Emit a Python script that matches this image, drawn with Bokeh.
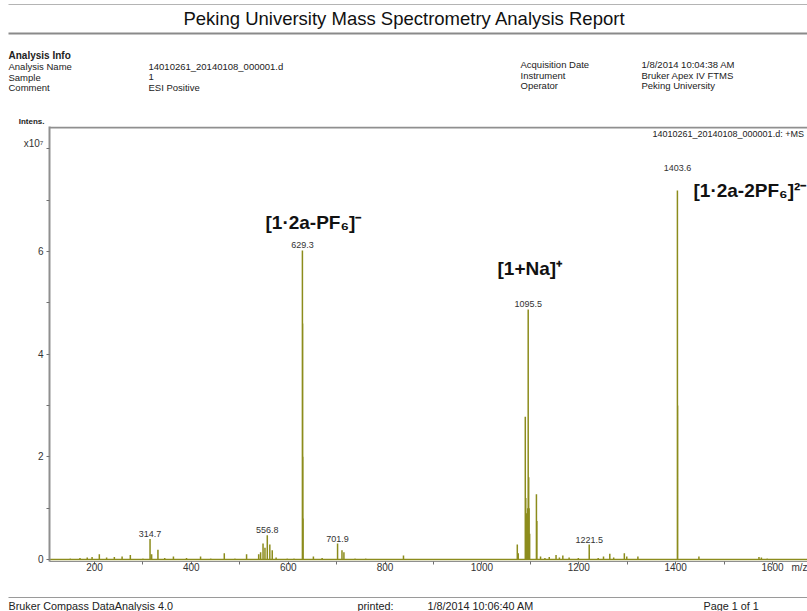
from bokeh.plotting import figure
from bokeh.layouts import column
from bokeh.models import FixedTicker, Label, BoxAnnotation, Range1d
from bokeh.core.properties import value
from bokeh.embed import file_html
from bokeh.resources import INLINE

# ---------------- data ----------------
report_title = "Peking University Mass Spectrometry Analysis Report"
info_header = "Analysis Info"
info_left_keys = ["Analysis Name", "Sample", "Comment"]
info_left_vals = ["14010261_20140108_000001.d", "1", "ESI Positive"]
info_right_keys = ["Acquisition Date", "Instrument", "Operator"]
info_right_vals = ["1/8/2014 10:04:38 AM", "Bruker Apex IV FTMS", "Peking University"]
spectrum_name = "14010261_20140108_000001.d: +MS"
footer_left = "Bruker Compass DataAnalysis 4.0"
footer_printed = "printed:"
footer_date = "1/8/2014 10:06:40 AM"
footer_page = "Page 1 of 1"

# stick spectrum (m/z, intensity in units of 1e7)
peak_mz = [150, 170, 185, 195, 210, 225, 241, 257, 274, 300, 314.7, 318, 331, 345,
           363, 390, 419, 440, 468, 490, 514, 539, 543, 548, 552, 556.8, 562, 567,
           575, 598, 612, 629.3, 629.8, 630.3, 630.8, 652, 670, 701.9, 711, 715,
           738, 760, 838, 900, 1010, 1073, 1075, 1089.5, 1090.5, 1091.5, 1092.5,
           1094.5, 1095.5, 1096.5, 1097.5, 1098.5, 1112.5, 1113.5, 1121, 1130,
           1139, 1153, 1160, 1167, 1180, 1199, 1221.5, 1240, 1251, 1264, 1272,
           1294, 1299, 1322, 1403.6, 1404.1, 1448, 1500, 1572, 1577, 1589]
peak_int = [0.02, 0.03, 0.04, 0.05, 0.10, 0.04, 0.05, 0.06, 0.09, 0.02, 0.40, 0.10, 0.19, 0.03,
            0.06, 0.03, 0.06, 0.02, 0.12, 0.02, 0.10, 0.10, 0.14, 0.31, 0.23, 0.47, 0.29, 0.18,
            0.04, 0.02, 0.02, 6.02, 4.60, 2.00, 0.80, 0.06, 0.03, 0.31, 0.18, 0.14,
            0.02, 0.02, 0.08, 0.01, 0.01, 0.29, 0.12, 2.78, 1.20, 0.90, 0.60,
            1.00, 4.87, 1.60, 1.00, 0.50, 1.27, 0.75, 0.06, 0.03,
            0.05, 0.09, 0.04, 0.08, 0.04, 0.03, 0.29, 0.03, 0.06, 0.11, 0.04,
            0.12, 0.06, 0.06, 7.19, 3.00, 0.06, 0.01, 0.05, 0.04, 0.02]
scan_start, scan_end = 108, 1680

labeled_mz = [314.7, 556.8, 629.3, 701.9, 1095.5, 1221.5, 1403.6]

assignments = ["[1·2a-PF₆]⁻", "[1+Na]⁺", "[1·2a-2PF₆]²⁻"]

x_ticks = [200, 400, 600, 800, 1000, 1200, 1400, 1600]
x_tick_marks = [200, 300, 400, 500, 600, 700, 800, 900, 1000, 1100, 1200, 1300, 1400, 1500, 1600]
x_label, x_label_pos = "m/z", 1656
y_ticks = [0, 2, 4, 6]
y_tick_marks = [0, 1, 2, 3, 4, 5, 6, 7, 8]
y_label_top = "Intens."
y_label_exp, y_label_exp_pos = "x10⁷", 8.1

# ---------------- styles / layout ----------------
FONT = "Liberation Sans"
OLIVE = "#8c8c1c"
GRAY = "#8f8f8f"
W = 807
HEAD_H, FOOT_TOP = 126, 590          # page rows: header 0..126, plot 126..590, footer 590..611
FL, FT, FB = 49, 126, 561            # page coords of the plot frame (left, top, bottom)
PX_PER_UNIT = 51.33                  # y pixels per 1e7


def no_align(f):
    try:
        f.frame_align = False
    except Exception:
        pass


def blank_fig(height, y0, y1):
    f = figure(width=W, height=height, output_backend="svg", toolbar_location=None,
               x_range=Range1d(0, W), y_range=Range1d(y1, y0),
               x_axis_location=None, y_axis_location=None,
               min_border_left=0, min_border_right=0, min_border_top=0, min_border_bottom=0,
               background_fill_color="white", border_fill_color="white",
               outline_line_color=None)
    f.grid.visible = False
    f.title.visible = False
    no_align(f)
    return f


def txt(f, X, Y, text, size, bold=False, align="left", color="#222222"):
    f.add_layout(Label(x=X, y=Y, text=text, text_font=FONT, text_font_size=f"{size}px",
                       text_font_style="bold" if bold else "normal",
                       text_align=align, text_baseline="middle", text_color=color))


def rule(f, Y, t, color):
    f.add_layout(BoxAnnotation(left=8, right=W, top=Y - t / 2, bottom=Y + t / 2,
                               fill_color=color, fill_alpha=1, line_color=None))


# ---- header ----
hf = blank_fig(HEAD_H, 0, HEAD_H)
rule(hf, 4, 1, "#b4b4b4")
rule(hf, 33, 2, "#8a8a8a")
txt(hf, 404, 17.5, report_title, 18.5, color="#111111", align="center")
txt(hf, 8, 55, info_header, 10, bold=True)
for k, (a, b) in enumerate(zip(info_left_keys, info_left_vals)):
    txt(hf, 8, 66 + 10.5 * k, a, 9.5)
    txt(hf, 148, 66 + 10.5 * k, b, 9.5)
for k, (a, b) in enumerate(zip(info_right_keys, info_right_vals)):
    txt(hf, 520, 64 + 10.5 * k, a, 9.5)
    txt(hf, 641, 64 + 10.5 * k, b, 9.5)
txt(hf, 44, 121, y_label_top, 8, bold=True, align="right")

# ---- main spectrum plot ----
y_end = (559 - FT) / PX_PER_UNIT
y_start = -(FB - 559) / PX_PER_UNIT
p = figure(width=W, height=FOOT_TOP - HEAD_H, output_backend="svg", toolbar_location=None,
           x_range=Range1d(107.1, 1672.2), y_range=Range1d(y_start, y_end),
           min_border_left=FL, min_border_right=0, min_border_top=FT - HEAD_H,
           min_border_bottom=FOOT_TOP - FB,
           background_fill_color="white", border_fill_color="white",
           outline_line_color=None)
p.grid.visible = False
p.title.visible = False
no_align(p)

p.xaxis.ticker = FixedTicker(ticks=x_ticks + [x_label_pos], minor_ticks=x_tick_marks)
p.xaxis.major_label_overrides = {x_label_pos: x_label}
p.yaxis.ticker = FixedTicker(ticks=y_ticks + [y_label_exp_pos], minor_ticks=y_tick_marks)
p.yaxis.major_label_overrides = {y_label_exp_pos: y_label_exp}
for ax in (p.xaxis, p.yaxis):
    ax.axis_line_color = GRAY
    ax.minor_tick_line_color = "#6f6f6f"
    ax.major_tick_in = 0
    ax.minor_tick_in = 0
    ax.major_tick_out = 0
    ax.minor_tick_out = 3
    ax.major_label_text_font = FONT
    ax.major_label_text_font_size = "10px"
    ax.major_label_text_color = "#333333"
p.xaxis.major_label_standoff = -3
p.yaxis.major_label_standoff = 3
p.yaxis.axis_line_width = 2

# top border of the plot frame
p.add_layout(BoxAnnotation(bottom=y_end - 2 / PX_PER_UNIT, fill_color=GRAY, fill_alpha=1,
                           line_color=None))

# spectrum as sticks joined by the baseline
order = sorted(range(len(peak_mz)), key=lambda i: peak_mz[i])
xs, ys = [scan_start], [0.0]
for i in order:
    xs += [peak_mz[i], peak_mz[i], peak_mz[i]]
    ys += [0.0, peak_int[i], 0.0]
xs.append(scan_end)
ys.append(0.0)
p.line(xs, ys, line_color=OLIVE, line_width=1.5)

# peak labels
lookup = dict(zip(peak_mz, peak_int))
lab_int = [lookup[m] for m in labeled_mz]
lab_txt = [f"{m:.1f}" for m in labeled_mz]
lab_dy = [-2, -2, -2, -2, -3, -2, -19]
p.text(x=labeled_mz, y=lab_int, text=lab_txt, y_offset=lab_dy,
       text_align="center", text_baseline="bottom",
       text_font=value(FONT), text_font_size="9px", text_color="#333333")


def frame_label(X, Y, text, size, bold=False, color="#111111"):
    p.add_layout(Label(x=X - FL, y=FB - Y, x_units="screen", y_units="screen",
                       text=text, text_font=FONT, text_font_size=f"{size}px",
                       text_font_style="bold" if bold else "normal",
                       text_align="left", text_baseline="middle", text_color=color))


frame_label(652, 133, spectrum_name, 9, color="#222222")
frame_label(265, 222, assignments[0], 19, bold=True)
frame_label(497, 268, assignments[1], 19, bold=True)
frame_label(693, 190, assignments[2], 19, bold=True)

# ---- footer ----
ff = blank_fig(611 - FOOT_TOP, FOOT_TOP, 611)
rule(ff, 597, 1, "#9a9a9a")
txt(ff, 8, 605, footer_left, 10.8)
txt(ff, 357, 605, footer_printed, 10.8)
txt(ff, 427, 605, footer_date, 10.8)
txt(ff, 703, 605, footer_page, 10.8)

page = column(hf, p, ff, spacing=0)
open("out.html", "w").write(file_html(page, INLINE))
